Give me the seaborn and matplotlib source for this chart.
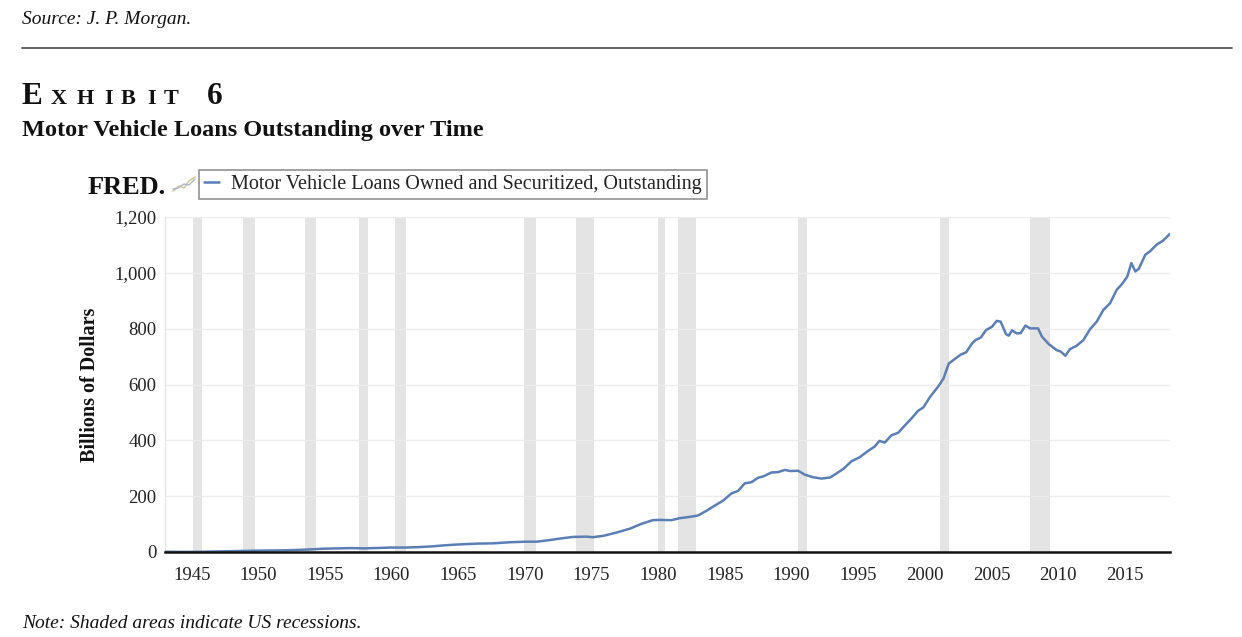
import pandas as pd
import seaborn as sns
import matplotlib.pyplot as plt
from matplotlib.lines import Line2D
from matplotlib.ticker import StrMethodFormatter

# Motor vehicle loans outstanding, billions of dollars
years = [1943.0, 1944.0, 1945.0, 1946.0, 1947.0, 1948.0, 1949.0, 1950.0, 1951.0, 1952.0,
         1953.0, 1954.0, 1955.0, 1956.0, 1957.0, 1958.0, 1959.0, 1960.0, 1961.0, 1962.0,
         1963.0, 1964.0, 1965.0, 1966.4, 1967.6, 1968.9, 1970.1, 1970.9, 1971.9, 1972.6,
         1973.6, 1974.6, 1975.1, 1975.9, 1976.9, 1977.9, 1978.75, 1979.6, 1980.1, 1981.0,
         1981.6, 1982.4, 1983.0, 1983.6, 1984.1, 1984.9, 1985.5, 1986.0, 1986.5, 1987.0,
         1987.5, 1987.9, 1988.5, 1989.0, 1989.5, 1989.9, 1990.5, 1991.0, 1991.6, 1992.25,
         1992.9, 1993.4, 1993.9, 1994.5, 1995.1, 1995.75, 1996.25, 1996.6, 1997.0, 1997.5,
         1998.0, 1998.5, 1999.0, 1999.5, 1999.9, 2000.4, 2001.0, 2001.4, 2001.8, 2002.3,
         2002.7, 2003.1, 2003.55, 2003.8, 2004.2, 2004.6, 2005.05, 2005.4, 2005.7, 2006.1,
         2006.3, 2006.55, 2006.9, 2007.2, 2007.55, 2007.9, 2008.5, 2008.8, 2009.3, 2009.9,
         2010.2, 2010.55, 2010.9, 2011.4, 2011.9, 2012.4, 2012.9, 2013.4, 2013.9, 2014.4,
         2014.8, 2015.2, 2015.5, 2015.8, 2016.05, 2016.55, 2016.9, 2017.4, 2017.9, 2018.4]
loans = [1.0, 0.5, 0.5, 1.0, 2.0, 3.0, 4.0, 5.0, 5.5, 6.0,
         7.5, 9.5, 12, 13, 14, 13, 14.5, 16, 16, 17.5,
         20, 24, 27, 30, 31, 35, 37, 37, 43, 48,
         54, 55, 53, 58, 70, 84, 101, 114, 115, 114,
         121, 126, 131, 147, 162, 185, 210, 219, 246, 250,
         266, 271, 285, 286, 294, 290, 291, 277, 268, 263,
         267, 282, 298, 325, 339, 362, 378, 398, 392, 418,
         427, 453, 478, 506, 518, 556, 592, 621, 675, 693,
         707, 715, 747, 759, 768, 795, 807, 828, 825, 780,
         775, 794, 783, 784, 811, 801, 801, 771, 745, 723,
         718, 703, 727, 739, 759, 798, 825, 867, 891, 939,
         960, 987, 1035, 1005, 1014, 1065, 1077, 1101, 1116, 1140]

# NBER recessions (decimal years)
rec_start = [1945.08, 1948.83, 1953.5, 1957.58, 1960.25, 1969.92, 1973.83,
             1980.0, 1981.5, 1990.5, 2001.17, 2007.92]
rec_end = [1945.75, 1949.75, 1954.33, 1958.25, 1961.08, 1970.83, 1975.17,
           1980.5, 1982.83, 1991.17, 2001.83, 2009.42]

xticks = list(range(1945, 2020, 5))
yticks = [0, 200, 400, 600, 800, 1000, 1200]

series_name = 'Motor Vehicle Loans Owned and Securitized, Outstanding'
df = pd.DataFrame({'year': years, 'value': loans})

sns.set_theme(style='white')
plt.rcParams['font.family'] = ['Liberation Serif', 'DejaVu Serif']

W, H = 1242, 637
fig = plt.figure(figsize=(W / 100, H / 100), dpi=100)
ax = fig.add_axes([165 / W, 1 - 552 / H, (1170 - 165) / W, (552 - 217) / H])

for s, e in zip(rec_start, rec_end):
    ax.axvspan(s, e, color='#e4e4e4', lw=0, zorder=0)

sns.lineplot(data=df, x='year', y='value', ax=ax, color='#5b7fb4', lw=1.8,
             label=series_name, zorder=3)

ax.set_xlim(years[0], years[-1])
ax.set_ylim(0, 1200)
ax.set_xticks(xticks)
ax.set_yticks(yticks)
ax.yaxis.set_major_formatter(StrMethodFormatter('{x:,.0f}'))
ax.tick_params(axis='both', length=0, labelsize=13.5, colors='#222222')
ax.tick_params(axis='x', pad=11)
ax.tick_params(axis='y', pad=6)
ax.grid(axis='y', color='#ececec', lw=1)
ax.grid(axis='x', visible=False)
ax.set_axisbelow(True)
for side in ['top', 'right']:
    ax.spines[side].set_visible(False)
ax.spines['left'].set_color('#e6e6e6')
ax.spines['left'].set_linewidth(1)
ax.spines['bottom'].set_color('#111111')
ax.spines['bottom'].set_linewidth(1.8)
ax.spines['bottom'].set_zorder(4)

ax.set_xlabel('')
ax.set_ylabel('Billions of Dollars', fontsize=14.5, fontweight='bold', color='#111111')
ax.yaxis.set_label_coords(-0.0647, 0.5)

leg = ax.legend(loc='lower left', bbox_to_anchor=(199 / W, 1 - 199 / H),
                bbox_transform=fig.transFigure, frameon=True, fancybox=False,
                fontsize=14.5, handlelength=0.75, handletextpad=0.6, borderpad=0.25,
                borderaxespad=0)
leg.get_frame().set_edgecolor('#777777')
leg.get_frame().set_linewidth(1.2)
for t in leg.get_texts():
    t.set_color('#222222')


def fx(px):
    return px / W


def fy(py):
    return 1 - py / H


fig.text(fx(22), fy(24), 'Source: J. P. Morgan.', fontsize=14, style='italic',
         color='#111111', va='baseline')
fig.add_artist(Line2D([fx(22), fx(1232)], [fy(48), fy(48)], color='#555555', lw=1.3))

# "EXHIBIT 6" in spaced small caps
fig.text(fx(22), fy(104), 'E', fontsize=22.5, fontweight='bold', color='#111111', va='baseline')
for ch, px in zip('XHIBIT', [51, 77, 104, 121, 147, 164]):
    fig.text(fx(px), fy(104), ch, fontsize=16, fontweight='bold', color='#111111',
             va='baseline')
fig.text(fx(207), fy(104), '6', fontsize=22.5, fontweight='bold', color='#111111', va='baseline')

fig.text(fx(22), fy(136), 'Motor Vehicle Loans Outstanding over Time', fontsize=17.5,
         fontweight='bold', color='#111111', va='baseline')
fig.text(fx(88), fy(194), 'FRED.', fontsize=19, fontweight='bold', color='#111111',
         va='baseline')

# small FRED chart icon
fig.add_artist(Line2D([fx(173), fx(179), fx(184), fx(189), fx(195)],
                      [fy(191), fy(186), fy(188), fy(181), fy(177)],
                      color='#d8c79a', lw=1.2))
fig.add_artist(Line2D([fx(173), fx(178), fx(184), fx(189), fx(195)],
                      [fy(189), fy(188), fy(184), fy(185), fy(179)],
                      color='#aab8cc', lw=1.0))

fig.text(fx(22), fy(628), 'Note: Shaded areas indicate US recessions.', fontsize=14,
         style='italic', color='#111111', va='baseline')

fig.savefig('out.png', dpi=100)
